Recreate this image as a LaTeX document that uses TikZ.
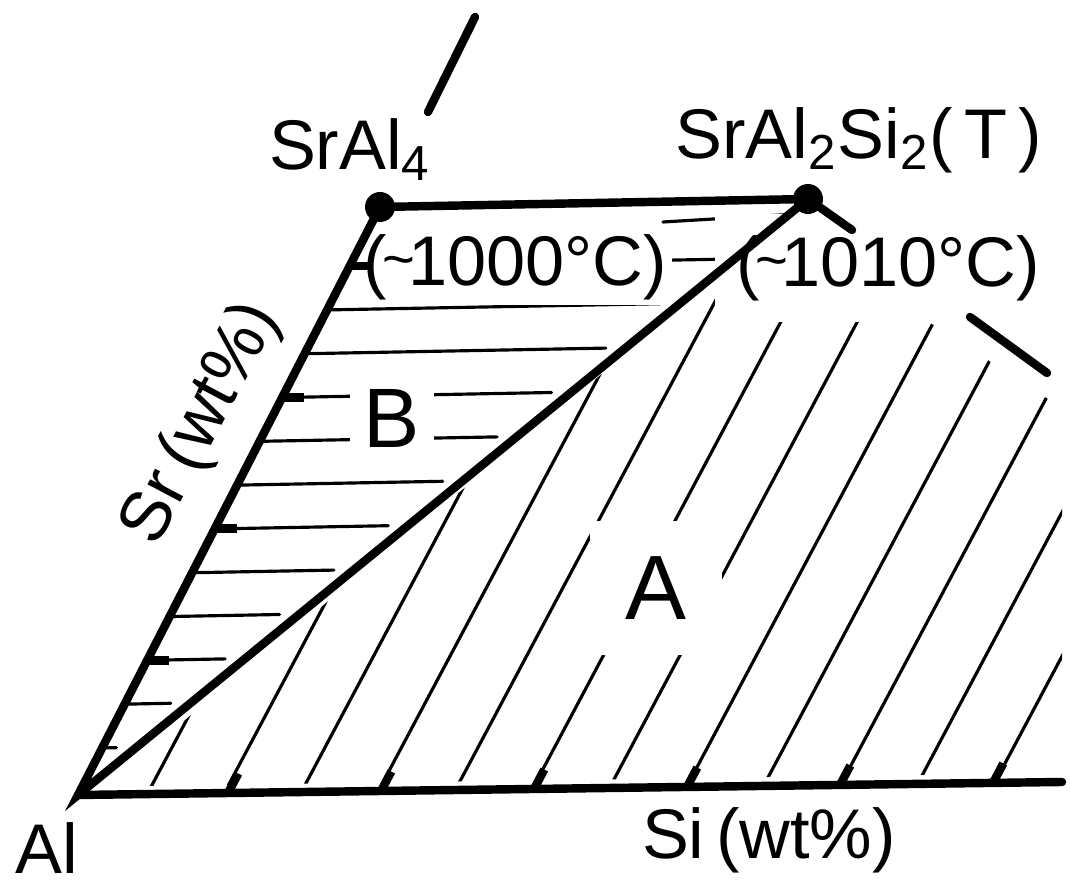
\documentclass[tikz,border=0pt]{standalone}
\usepackage{fontspec}
\setmainfont{Liberation Sans}
\usetikzlibrary{calc}

\tikzset{
  edge/.style={line width=2.4pt, line cap=round},
  hatch/.style={line width=0.9pt, line cap=round},
  tickmark/.style={line width=2.4pt},
  lbl/.style={font=\fontsize{20}{24}\selectfont, inner sep=1pt},
  blank/.style={fill=white, inner sep=#1},
}
\newcommand{\approxdeg}{\kern-.06em\raisebox{.1em}{\fontsize{16}{16}\selectfont\char`\~}\kern-.1em}

\begin{document}
\begin{tikzpicture}
  \useasboundingbox (0,0) rectangle (10.70,8.86);
  % corners of the section
  \coordinate (al) at (0.78,0.91);
  \coordinate (sral) at (3.80,6.79);
  \coordinate (tpt) at (8.08,6.87);
  \coordinate (siend) at (10.62,1.04);

  % field A, slanted hatching
  \begin{scope}
    \clip (1.05,0.995) -- (7.80,6.60) -- (10.62,4.78) -- (10.62,1.13) -- cycle;
    \foreach \k in {0,...,14}
      \draw[hatch] ({1.515+0.765*\k},1.0) ++(242:0.4) -- ++(62:9.5);
  \end{scope}

  % field B, level hatching
  \foreach \k [evaluate=\k as \f using 0.08+0.0745*\k] in {0,...,11}
    \draw[hatch, shorten >=0.2cm] ($(al)!\f!(sral)$) -- ($(al)!\f!(tpt)$);
  \coordinate (topb) at (6.63,6.64);
  \draw[hatch] (topb) -- ($(al)!0.974!(tpt)$);

  % labels that break the hatching
  \node[lbl, blank=1.5pt] (cthousand) at (5.15,6.19) {(\approxdeg1000°C)};
  \node[lbl, blank=6pt] (cten) at (8.88,6.18) {(\approxdeg1010°C)};
  \node[font=\fontsize{24}{28}\selectfont, blank=4pt] (fieldb) at (3.92,4.68) {B};
  \node[font=\fontsize{26}{30}\selectfont, blank=10pt] (fielda) at (6.56,2.98) {A};

  % ticks on both axes
  \foreach \f in {0.229,0.453,0.676,0.900}
    \draw[tickmark] ($(al)!\f!(sral)$) -- ++(0.22,0);
  \foreach \k [evaluate=\k as \f using (0.735+0.765*\k)/9.84] in {1,3,...,11}
    \draw[tickmark] ($(al)!\f!(siend)$) -- ++(62:0.22);

  % boundaries
  \draw[edge] (al) -- (sral) -- (tpt) -- cycle;
  \draw[edge] (al) -- (siend);

  % loose ends of other boundaries
  \coordinate (upa) at (4.28,7.74);
  \coordinate (upb) at (4.75,8.69);
  \coordinate (tstub) at (8.52,6.56);
  \coordinate (rsa) at (9.70,5.69);
  \coordinate (rsb) at (10.47,5.13);
  \draw[edge] (upa) -- (upb);
  \draw[edge] (tpt) -- (tstub);
  \draw[edge] (rsa) -- (rsb);

  \fill (sral) circle (0.15);
  \fill (tpt) circle (0.15);

  \node[lbl] (sralfour) at (3.50,7.36) {SrAl\textsubscript{4}};
  \node[lbl] (sralsi) at (8.59,7.46) {SrAl\textsubscript{2}Si\textsubscript{2}(\,T\,)};
  \node[lbl] (alname) at (0.47,0.38) {Al};
  \node[lbl] (siaxis) at (7.69,0.46) {Si\,(wt\%)};
  \node[lbl, rotate=62] (sraxis) at (2.02,4.62) {Sr\,(wt\%)};
\end{tikzpicture}
\end{document}
